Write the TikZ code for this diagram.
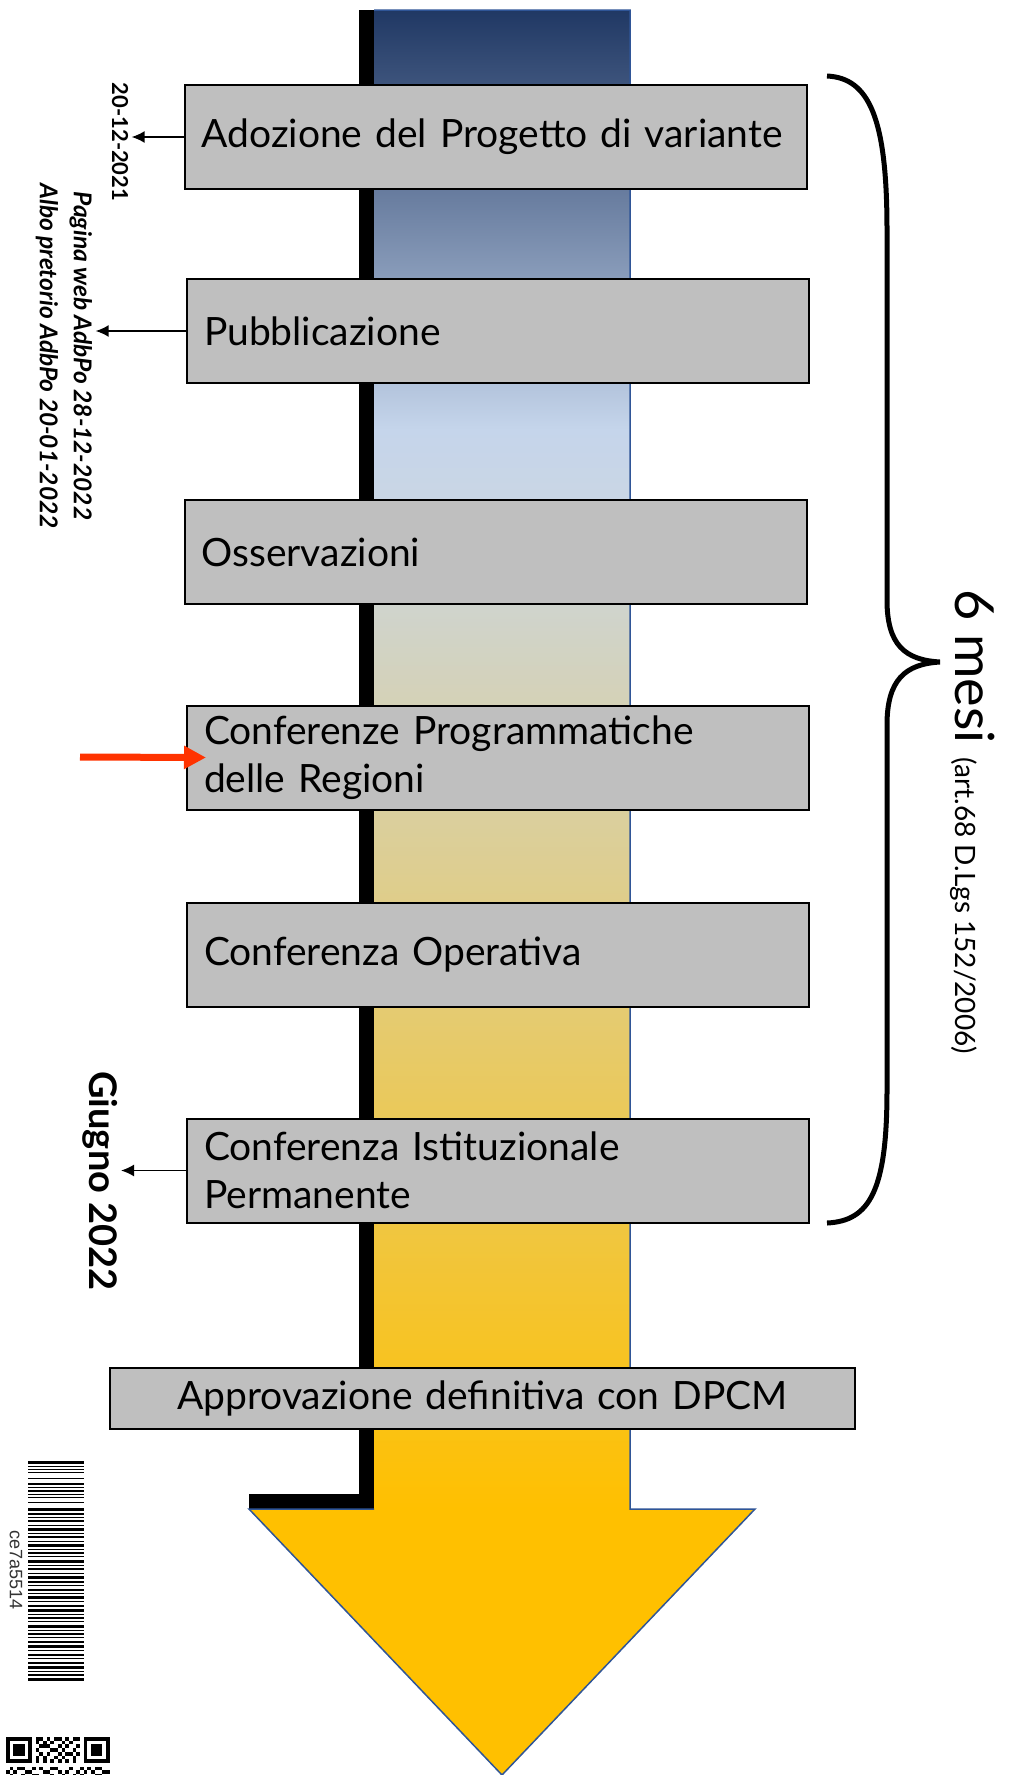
\documentclass[tikz,border=0pt]{standalone}
\usepackage{fontspec}
\setmainfont{Lato}
\newfontfamily\codefont{Liberation Sans}
\usetikzlibrary{arrows.meta,positioning,calc}
\definecolor{navy}{HTML}{203864}
\definecolor{skyblue}{HTML}{C5D5EB}
\definecolor{paleblue}{HTML}{CAD6E4}
\definecolor{gold}{HTML}{FFC000}
\definecolor{edge}{HTML}{2F5597}
\definecolor{boxgray}{HTML}{BFBFBF}
\definecolor{alert}{HTML}{FF3300}
\pgfdeclareverticalshading{shaft}{100bp}{color(0bp)=(gold); color(25bp)=(gold); color(58.5bp)=(paleblue); color(61bp)=(skyblue); color(75bp)=(navy); color(100bp)=(navy)}

\begin{document}
\begin{tikzpicture}[x=1pt,y=-1pt,>=Latex,
  stepbox/.style={draw=black,line width=2pt,fill=boxgray,text width=588pt,inner xsep=17pt,minimum height=104pt,align=left,font=\fontsize{39}{48}\selectfont},
  datelab/.style={rotate=-90,font=\bfseries\fontsize{22}{26}\selectfont},
  pin/.style={-{Latex[length=13pt,width=12pt]},line width=1.5pt}]
  \useasboundingbox (0,0) rectangle (1009,1775);
  % arrow with its shadow
  \fill[black] (359,10) rectangle (374,1510);
  \fill[black] (249,1494) rectangle (374,1510);
  \shade[shading=shaft] (374,10) rectangle (630,1509);
  \fill[gold] (630,1509) -- (755,1509) -- (502,1775) -- (249,1509) -- cycle;
  \draw[edge,line width=1.5pt] (374,10) -- (630,10) -- (630,1509) -- (755,1509) -- (502,1775) -- (249,1509) -- (374,1509);
  % steps
  \node[stepbox] (adoz) at (495.5,137) {Adozione del Progetto di variante};
  \node[stepbox] (pubbl) at (498,331) {Pubblicazione};
  \node[stepbox] (osserv) at (495.5,552) {Osservazioni};
  \node[stepbox] (confprog) at (498,757.5) {Conferenze Programmatiche\\delle Regioni};
  \node[stepbox] (confop) at (498,955) {Conferenza Operativa};
  \node[stepbox] (confist) at (498,1170.5) {Conferenza Istituzionale\\Permanente};
  \node[stepbox,text width=711pt,minimum height=61pt,align=center,font=\fontsize{39}{46}\selectfont] (approv) at (482.5,1398.5) {Approvazione definitiva con DPCM};
  % dates on the left
  \node[datelab] (date1) at (120,142) {20-12-2021};
  \node[rotate=-90,align=center,font=\bfseries\itshape\fontsize{24.5}{34}\selectfont] (pubnote) at (64,356) {Pagina web AdbPo 28-12-2022\\Albo pretorio AdbPo 20-01-2022};
  \node[rotate=-90,font=\bfseries\fontsize{38}{44}\selectfont] (giugno) at (100,1181) {Giugno 2022};
  \draw[pin] (adoz.west) -- (adoz.west -| date1.north);
  \draw[pin] (pubbl.west) -- (pubbl.west -| pubnote.north);
  \draw[pin] (confist.west) -- (confist.west -| giugno.north);
  \coordinate (redtail) at (80,757);
  \draw[alert,line width=7pt,-{Triangle[length=22pt,width=22pt]}] (redtail) -- ([xshift=20pt]confprog.west);
  % brace and duration
  \draw[line width=5pt] (827,76) .. controls (870,78) and (887,120) .. (887,230) -- (887,600)
    .. controls (887,645) and (905,660) .. (940,662) .. controls (905,664) and (887,680) .. (887,725)
    -- (887,1090) .. controls (887,1190) and (870,1221) .. (827,1223);
  \node[rotate=-90,anchor=base west,inner sep=0pt] (mesi) at (955,589) {\fontsize{54}{60}\selectfont 6 mesi \fontsize{28}{32}\selectfont(art.68 D.Lgs 152/2006)};
  % barcode and qr
  \foreach \y/\h in {0/3,5/1,8/1,11/1,17/1,22/2,26/1,29/2,33/1,36/1,41/1,47/3,52/2,56/1,59/2,64/1,67/3,72/1,75/2,80/1,83/3,88/1,91/2,95/1,99/3,104/1,107/2,112/1,115/3,120/2,124/1,128/2,132/1,135/3,140/1,144/2,148/3,153/1,156/2,160/1,164/3,169/1,172/2,176/1,180/2,184/3,189/1,193/2,197/1,201/2,205/3,210/1,213/2,217/3}
    \fill (28,1461+\y) rectangle (84,1461+\y+\h);
  \node[rotate=-90,text=black!80,font=\codefont\fontsize{18}{20}\selectfont] (barcode) at (16,1570) {ce7a5514};
  \foreach \c in {0,21}{
    \draw[line width=3.7pt] ({6+3.7*\c+1.85},1738.85) rectangle ({6+3.7*(\c+7)-1.85},{1737+3.7*7-1.85});
    \fill ({6+3.7*(\c+2)},1744.4) rectangle ({6+3.7*(\c+5)},1755.5);
  }
  \foreach \c/\r in {8/0,9/0,11/0,13/0,14/0,16/0,18/0,19/0,8/1,10/1,12/1,15/1,17/1,9/2,10/2,11/2,14/2,16/2,19/2,8/3,12/3,13/3,15/3,18/3,9/4,11/4,14/4,16/4,17/4,19/4,8/5,10/5,13/5,15/5,18/5,8/6,10/6,12/6,14/6,16/6,18/6,1/8,3/8,4/8,7/8,9/8,12/8,13/8,17/8,20/8,22/8,24/8,25/8,0/9,2/9,5/9,6/9,10/9,11/9,14/9,16/9,19/9,21/9,23/9,26/9,27/9,1/10,4/10,7/10,8/10,12/10,15/10,18/10,20/10,24/10,25/10}
    \fill ({6+3.7*\c},{1737+3.7*\r}) rectangle ++(3.7,3.7);
\end{tikzpicture}
\end{document}
